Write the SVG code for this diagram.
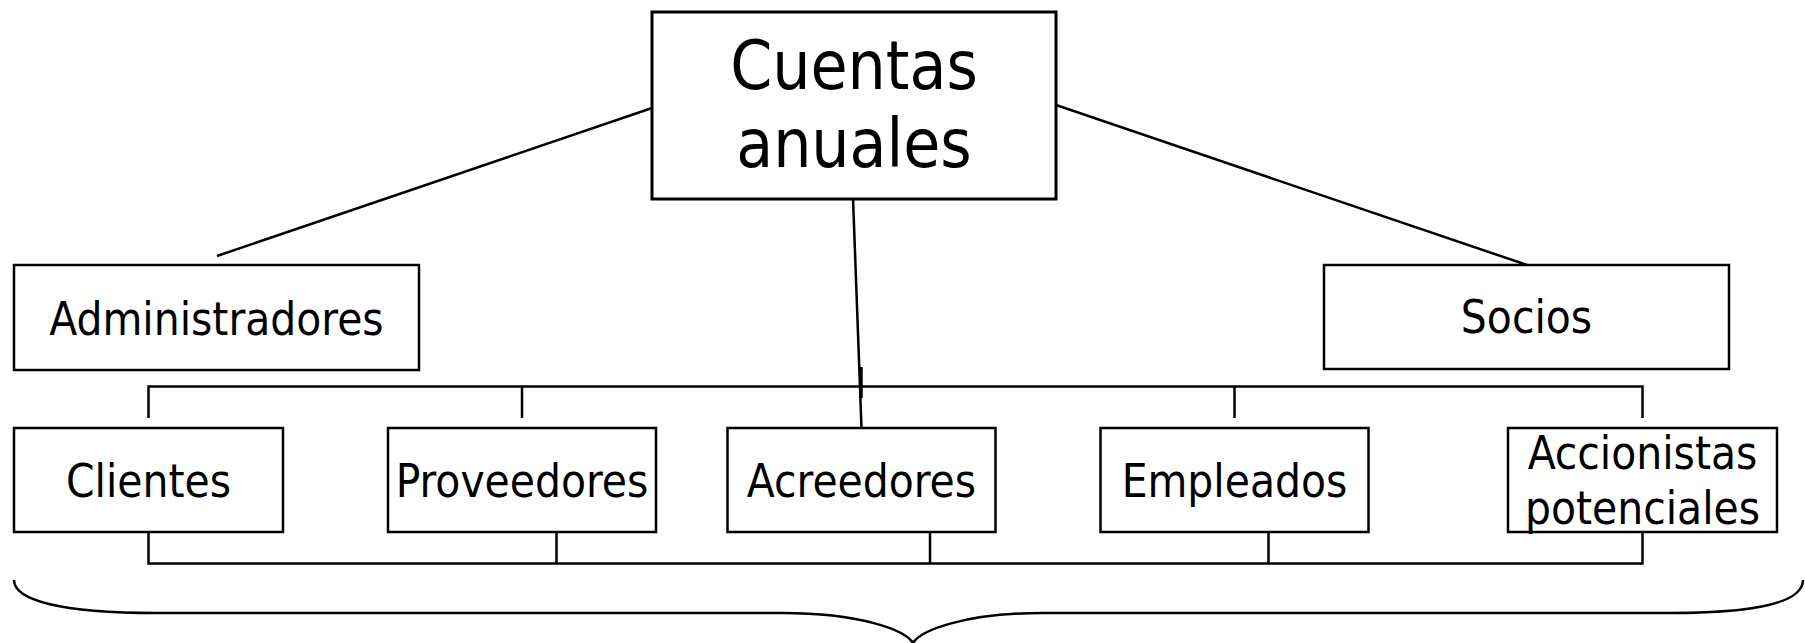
<svg xmlns="http://www.w3.org/2000/svg" width="1805" height="643" viewBox="0 0 1805 643">
<style>
.box{fill:#fff;stroke:#000;stroke-width:2.5}
.big{stroke-width:3}
.t{font-family:"DejaVu Sans Condensed","Liberation Sans",Arial,sans-serif;font-stretch:condensed;font-size:45.5px;fill:#000;text-anchor:middle}
.tb{font-size:67px}
.c{fill:none;stroke:#000;stroke-width:2.5}
</style>
<rect width="1805" height="643" fill="#fff"/>
<g id="connectors">
<line class="c" x1="655" y1="107" x2="217" y2="256"/>
<line class="c" x1="1056" y1="105" x2="1527" y2="265"/>
<line class="c" x1="853" y1="198" x2="861.5" y2="428"/>
<line class="c" x1="861" y1="367" x2="861" y2="398" style="stroke-width:3.5"/>
<polyline class="c" points="148.5,418 148.5,386.5 1642.5,386.5 1642.5,418"/>
<line class="c" x1="522" y1="386.5" x2="522" y2="418"/>
<line class="c" x1="1234.5" y1="386.5" x2="1234.5" y2="418"/>
<polyline class="c" points="148.5,531 148.5,563.5 1642.5,563.5 1642.5,531"/>
<line class="c" x1="556.5" y1="531" x2="556.5" y2="563.5"/>
<line class="c" x1="930" y1="531" x2="930" y2="563.5"/>
<line class="c" x1="1268.5" y1="531" x2="1268.5" y2="563.5"/>
<path class="c" d="M14,580 C14,600 60,613 156,613 L783,613 C860,613 905,630 913,643 C921,630 966,613 1043,613 L1670,613 C1766,613 1803,600 1803,580"/>
</g>
<g id="cuentas">
<rect class="box big" x="652" y="12" width="404" height="187"/>
<text class="t tb" x="854" y="89">Cuentas</text>
<text class="t tb" x="854" y="167">anuales</text>
</g>
<g id="administradores">
<rect class="box" x="14" y="265" width="405" height="105"/>
<text class="t" x="216.5" y="335">Administradores</text>
</g>
<g id="socios">
<rect class="box" x="1324" y="265" width="405" height="104"/>
<text class="t" x="1526.5" y="333">Socios</text>
</g>
<g id="clientes">
<rect class="box" x="14" y="428" width="269" height="104"/>
<text class="t" x="148.5" y="497">Clientes</text>
</g>
<g id="proveedores">
<rect class="box" x="388" y="428" width="268" height="104"/>
<text class="t" x="522" y="497">Proveedores</text>
</g>
<g id="acreedores">
<rect class="box" x="727.5" y="428" width="268" height="104"/>
<text class="t" x="861.5" y="497">Acreedores</text>
</g>
<g id="empleados">
<rect class="box" x="1100.5" y="428" width="268" height="104"/>
<text class="t" x="1234.5" y="497">Empleados</text>
</g>
<g id="accionistas">
<rect class="box" x="1508" y="428" width="269" height="104"/>
<text class="t" x="1642.5" y="469">Accionistas</text>
<text class="t" x="1642.5" y="524">potenciales</text>
</g>
</svg>
